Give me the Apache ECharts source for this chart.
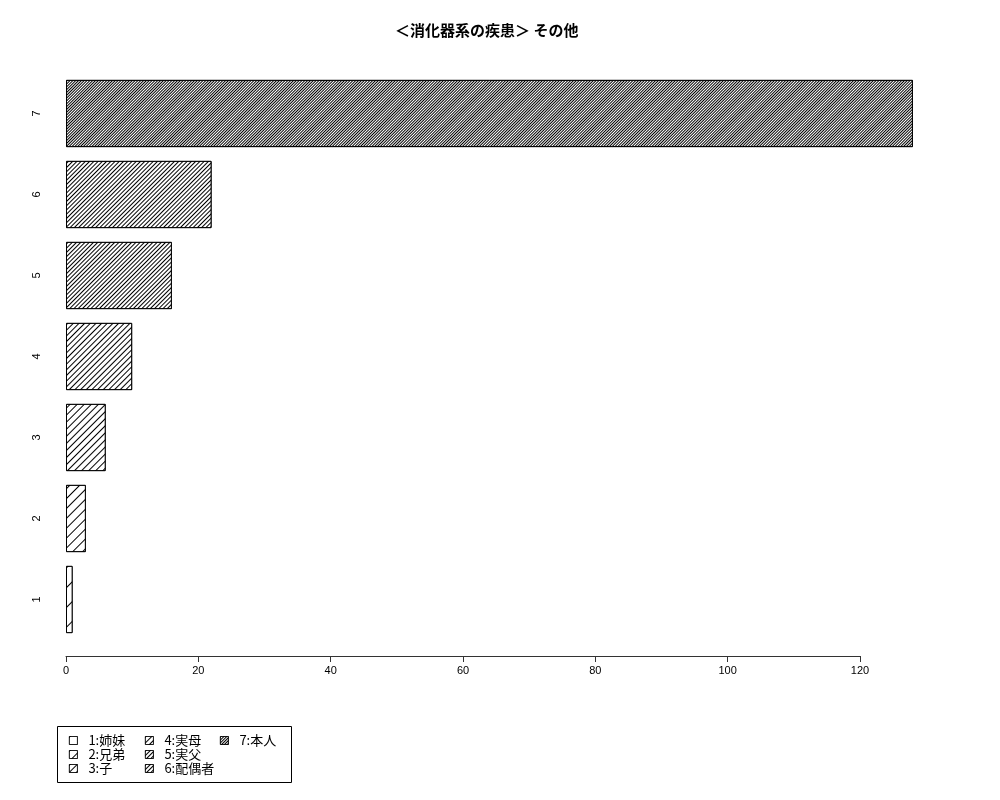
<!DOCTYPE html>
<html>
<head>
<meta charset="utf-8">
<script src="https://cdn.jsdelivr.net/npm/echarts@6/dist/echarts.min.js"></script>
<style>
  html, body { margin: 0; padding: 0; background: #fff; }
  #chart { width: 1000px; height: 800px; }
</style>
</head>
<body>
<div id="chart"></div>
<script>
// donnees
var categories = ['1', '2', '3', '4', '5', '6', '7'];
var values = [1, 3, 6, 10, 16, 22, 128];
var legendNames = ['1:姉妹', '2:兄弟', '3:子', '4:実母', '5:実父', '6:配偶者', '7:本人'];
var xTicks = [0, 20, 40, 60, 80, 100, 120];
// espacement des hachures (px), du moins dense au plus dense
var hatchGap = [14, 7, 5, 3.6, 3, 2.5, 2];

var chart = echarts.init(document.getElementById('chart'));

// une serie par barre pour avoir une legende par categorie
var series = categories.map(function (c, i) {
    var d = categories.map(function () { return '-'; });
    d[i] = values[i];
    return {
        name: legendNames[i],
        type: 'bar',
        stack: 'all',
        data: d,
        clip: false,
        barCategoryGap: '17%',
        itemStyle: {
            color: '#ffffff',
            borderColor: '#000',
            borderWidth: 1,
            decal: {
                symbol: 'rect',
                symbolSize: 1,
                color: '#000',
                backgroundColor: '#ffffff',
                dashArrayX: [1, 0],
                dashArrayY: [1, hatchGap[i] - 1],
                rotation: -Math.PI / 4
            }
        }
    };
});

function legendCol(names, left) {
    return {
        orient: 'vertical',
        left: left,
        top: 734,
        padding: 0,
        icon: 'rect',
        itemWidth: 8,
        itemHeight: 8,
        itemGap: 1,
        data: names,
        selectedMode: false,
        itemStyle: { borderWidth: 0.8 },
        textStyle: {
            fontSize: 13, lineHeight: 12, color: '#000',
            fontFamily: 'Noto Sans CJK JP', padding: [0, 0, 0, 6]
        }
    };
}

chart.setOption({
    animation: false,
    title: {
        text: '＜消化器系の疾患＞ その他',
        left: 390,
        top: 18,
        textStyle: { fontSize: 15, fontWeight: 'bold', color: '#000', fontFamily: 'Noto Sans CJK JP' }
    },
    grid: { left: 66, right: 140, top: 73, bottom: 160 },
    xAxis: {
        type: 'value',
        min: 0,
        max: 120,
        interval: 20,
        offset: 16,
        splitLine: { show: false },
        axisLine: { show: true, lineStyle: { color: '#333', width: 1 } },
        axisTick: { show: true, length: 6, lineStyle: { color: '#333' } },
        axisLabel: {
            color: '#000', fontSize: 11, margin: 9, fontFamily: 'Liberation Sans',
            formatter: function (v) { return xTicks.indexOf(v) >= 0 ? String(v) : ''; }
        }
    },
    yAxis: {
        type: 'category',
        data: categories,
        axisLine: { show: false },
        axisTick: { show: false },
        axisLabel: { rotate: 90, margin: 24, color: '#000', fontSize: 11, fontFamily: 'Liberation Sans' }
    },
    legend: [
        legendCol(legendNames.slice(0, 3), 69),
        legendCol(legendNames.slice(3, 6), 145),
        legendCol(legendNames.slice(6), 220)
    ],
    graphic: [{
        type: 'rect',
        shape: { x: 57.5, y: 726.5, width: 234, height: 56 },
        style: { fill: 'none', stroke: '#000', lineWidth: 1 }
    }],
    series: series
});
</script>
</body>
</html>
